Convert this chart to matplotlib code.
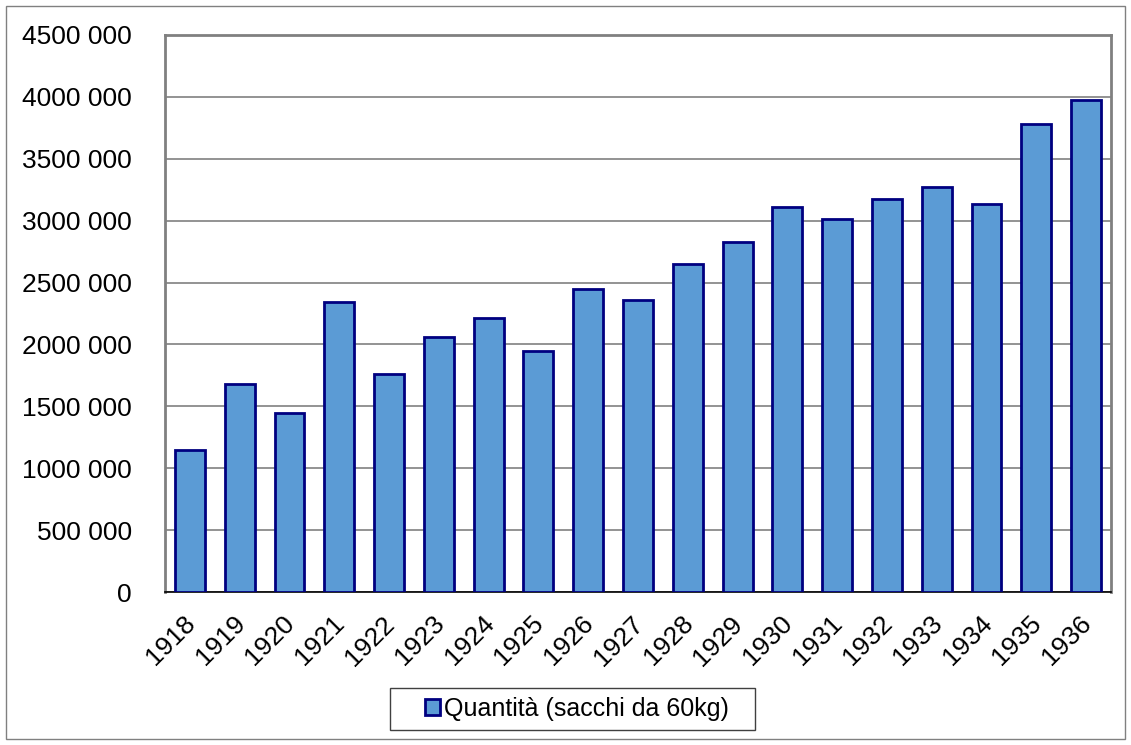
import matplotlib.pyplot as plt
import matplotlib.transforms as mtransforms
from matplotlib.patches import Rectangle, Patch

plt.rcParams["font.family"] = ["Liberation Sans", "DejaVu Sans"]

years = ["1918", "1919", "1920", "1921", "1922", "1923", "1924", "1925", "1926", "1927",
         "1928", "1929", "1930", "1931", "1932", "1933", "1934", "1935", "1936"]
quantita = [1147000, 1680000, 1446000, 2343000, 1761000, 2060000, 2213000, 1947000, 2448000,
            2359000, 2650000, 2827000, 3110000, 3013000, 3174000, 3271000, 3134000, 3780000,
            3974000]
y_ticks = [0, 500000, 1000000, 1500000, 2000000, 2500000, 3000000, 3500000, 4000000, 4500000]
y_tick_labels = ["0", "500 000", "1000 000", "1500 000", "2000 000", "2500 000",
                 "3000 000", "3500 000", "4000 000", "4500 000"]
series_name = "Quantità (sacchi da 60kg)"

BAR = "#5B9BD5"
EDGE = "#000080"
GRID = "#808080"
W, H = 1131, 745

fig = plt.figure(figsize=(W / 100, H / 100), dpi=100)
ax = fig.add_axes([165 / W, 1 - 592 / H, 946 / W, 557 / H])

x = range(len(years))
ax.bar(x, quantita, width=0.6, color=BAR, edgecolor=EDGE, linewidth=2.0, zorder=3)

ax.set_xlim(-0.5, len(years) - 0.5)
ax.set_ylim(0, 4500000)
ax.set_yticks(y_ticks)
ax.set_yticklabels(y_tick_labels, fontsize=19)
ax.set_xticks(list(x))
ax.set_xticklabels(years, fontsize=19, rotation=45, ha="right", rotation_mode="anchor")
ax.tick_params(axis="y", length=0, pad=24)
ax.tick_params(axis="x", length=0, pad=14)

# nudge the rotated year labels a little to the left
shift = mtransforms.ScaledTranslation(-7 / 100, 0, fig.dpi_scale_trans)
for lbl in ax.get_xticklabels():
    lbl.set_transform(lbl.get_transform() + shift)

ax.grid(True, axis="y", color=GRID, linewidth=1.2, zorder=1)
for side in ["left", "right", "top"]:
    ax.spines[side].set_color(GRID)
    ax.spines[side].set_linewidth(2)
ax.spines["bottom"].set_color("black")
ax.spines["bottom"].set_linewidth(1.2)

# legend: frameless entry plus a hand-placed box
handle = Patch(facecolor=BAR, edgecolor=EDGE, linewidth=2)
fig.legend([handle], [series_name], loc="center", bbox_to_anchor=(577 / W, 1 - 709 / H),
           fontsize=18, frameon=False,
           handlelength=0.6, handleheight=0.6, handletextpad=0.15, borderpad=0,
           borderaxespad=0)
fig.patches.append(Rectangle((390 / W, 1 - 730 / H), 365 / W, 42 / H,
                             transform=fig.transFigure, fill=False,
                             edgecolor="#404040", linewidth=1))

# outer chart border
fig.patches.append(Rectangle((6 / W, 6 / H), 1119 / W, 733 / H,
                             transform=fig.transFigure, fill=False,
                             edgecolor="#808080", linewidth=1))

fig.savefig("out.png", dpi=100)
